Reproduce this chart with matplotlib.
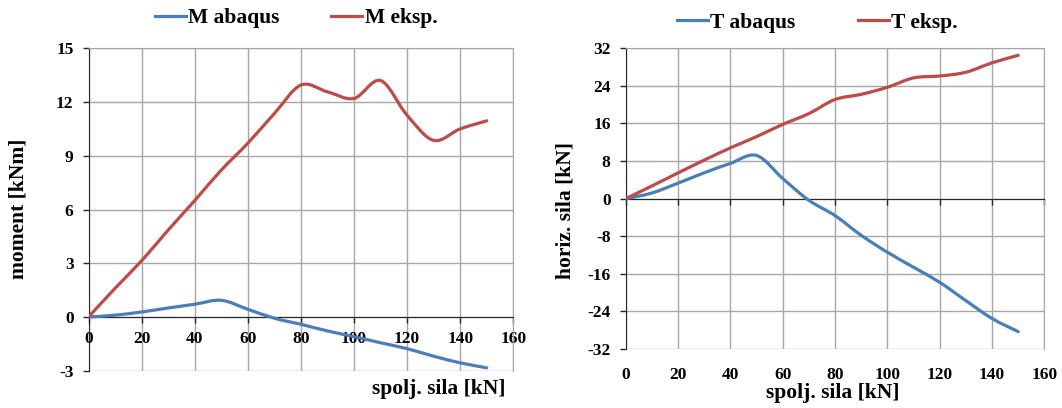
import matplotlib
matplotlib.use("Agg")
import matplotlib.pyplot as plt
import numpy as np
from matplotlib.path import Path
from matplotlib.patches import PathPatch
from matplotlib.lines import Line2D

plt.rcParams['font.family'] = ['Liberation Serif', 'DejaVu Serif']
plt.rcParams['font.weight'] = 'bold'
plt.rcParams['axes.unicode_minus'] = False

# External force [kN]
force = [0, 10, 20, 30, 40, 50, 60, 70, 80, 90, 100, 110, 120, 130, 140, 150]

# Moment [kNm]
m_abaqus = [0, 0.1, 0.28, 0.5, 0.71, 0.93, 0.43, -0.07, -0.41, -0.78, -1.1, -1.44, -1.77, -2.19, -2.56, -2.84]
m_eksp = [0, 1.6, 3.14, 4.85, 6.5, 8.2, 9.7, 11.36, 12.95, 12.57, 12.2, 13.2, 11.26, 9.86, 10.5, 10.95]

# Horizontal force [kN]
t_abaqus = [0, 1.2, 3.3, 5.5, 7.5, 9.2, 4.3, -0.35, -3.6, -7.8, -11.4, -14.6, -17.8, -21.7, -25.5, -28.3]
t_eksp = [0, 2.7, 5.48, 8.2, 10.8, 13.2, 15.8, 18.1, 21.1, 22.2, 23.7, 25.7, 26.1, 26.9, 28.9, 30.5]

x_ticks = [0, 20, 40, 60, 80, 100, 120, 140, 160]
m_ticks = [-3, 0, 3, 6, 9, 12, 15]
t_ticks = [-32, -24, -16, -8, 0, 8, 16, 24, 32]

BLUE = '#4A7EBB'
RED = '#BE4B48'
GRID = '#A6A6A6'
LW = 2.3
TICK_FS = 12.5
LABEL_FS = 15.5
W, H = 1062, 408


def smooth_path(x, y):
    """Cubic Bezier path through the points (Catmull-Rom style smoothing)."""
    p = np.column_stack([x, y]).astype(float)
    n = len(p)
    verts = [p[0]]
    codes = [Path.MOVETO]
    for i in range(n - 1):
        p0 = p[i - 1] if i > 0 else p[i]
        p1 = p[i]
        p2 = p[i + 1]
        p3 = p[i + 2] if i + 2 < n else p[i + 1]
        c1 = p1 + (p2 - p0) / 6.0
        c2 = p2 - (p3 - p1) / 6.0
        verts += [c1, c2, p2]
        codes += [Path.CURVE4] * 3
    return Path(verts, codes)


def draw_series(ax, x, y, color):
    ax.add_patch(PathPatch(smooth_path(x, y), facecolor='none', edgecolor=color,
                           lw=LW, capstyle='round', joinstyle='round', zorder=3))


def style_axes(ax, yticks):
    ax.set_xlim(0, 160)
    ax.set_ylim(yticks[0], yticks[-1])
    ax.set_xticks(x_ticks)
    ax.set_yticks(yticks)
    ax.grid(True, color=GRID, lw=1.0)
    ax.set_axisbelow(True)
    ax.spines['bottom'].set_position(('data', 0))
    ax.spines['bottom'].set_color('#262626')
    ax.spines['left'].set_color('#262626')
    for s in ('top', 'right'):
        ax.spines[s].set_color(GRID)
    ax.tick_params(axis='both', direction='out', length=4.3, width=1.0,
                   color='#262626', labelsize=TICK_FS)
    ax.tick_params(axis='y', pad=6.5)
    for lbl in ax.get_xticklabels() + ax.get_yticklabels():
        lbl.set_fontweight('bold')


def add_legend(handles, labels, center, colspace):
    fig.legend(handles, labels, loc='center', bbox_to_anchor=center,
               ncol=2, frameon=False, handlelength=1.45, handletextpad=0.1,
               columnspacing=colspace, borderpad=0.0,
               prop={'family': 'Liberation Serif', 'weight': 'bold', 'size': LABEL_FS})


def px(x, y):
    return x / W, 1 - y / H


fig = plt.figure(figsize=(W / 100, H / 100), dpi=100)

# Left: moment
ax1 = fig.add_axes([88.5 / W, 37.3 / H, 424.8 / W, 322.4 / H])
style_axes(ax1, m_ticks)
ax1.tick_params(axis='x', pad=5.5)
draw_series(ax1, force, m_abaqus, BLUE)
draw_series(ax1, force, m_eksp, RED)
fig.text(*px(18.6, 209), 'moment [kNm]', rotation=90, ha='center', va='center',
         fontsize=LABEL_FS, fontweight='bold')
fig.text(*px(505, 389), 'spolj. sila [kN]', ha='right', va='center',
         fontsize=LABEL_FS, fontweight='bold')
add_legend([Line2D([], [], color=BLUE, lw=LW), Line2D([], [], color=RED, lw=LW)],
           ['M abaqus', 'M eksp.'], px(296, 18.4), 2.4)

# Right: horizontal force
ax2 = fig.add_axes([625.7 / W, 59 / H, 418.6 / W, 300.7 / H])
style_axes(ax2, t_ticks)
ax2.tick_params(axis='x', labelbottom=False)
sec = ax2.secondary_xaxis(t_ticks[0], transform=ax2.transData)
sec.set_xticks(x_ticks)
sec.spines['bottom'].set_visible(False)
sec.tick_params(length=0, pad=13, labelsize=TICK_FS)
for lbl in sec.get_xticklabels():
    lbl.set_fontweight('bold')
draw_series(ax2, force, t_abaqus, BLUE)
draw_series(ax2, force, t_eksp, RED)
fig.text(*px(565.5, 210.5), 'horiz. sila [kN]', rotation=90, ha='center', va='center',
         fontsize=LABEL_FS, fontweight='bold')
fig.text(*px(833, 393), 'spolj. sila [kN]', ha='center', va='center',
         fontsize=LABEL_FS, fontweight='bold')
add_legend([Line2D([], [], color=BLUE, lw=LW), Line2D([], [], color=RED, lw=LW)],
           ['T abaqus', 'T eksp.'], px(817.6, 22.7), 2.9)

fig.savefig('out.png', dpi=100)
